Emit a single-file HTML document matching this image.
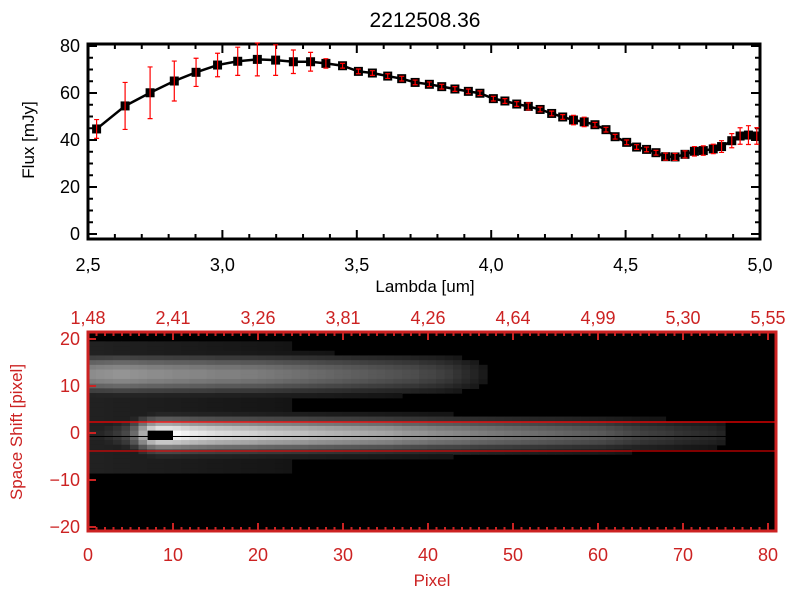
<!DOCTYPE html>
<html><head><meta charset="utf-8"><style>
body{margin:0;background:#fff}
svg{display:block;font-family:"Liberation Sans",sans-serif}
</style></head><body>
<svg id="chart" width="800" height="600" viewBox="0 0 800 600" xmlns="http://www.w3.org/2000/svg">
<rect width="800" height="600" fill="#fff"/>
<text x="425" y="27" font-size="21" text-anchor="middle">2212508.36</text>
<g id="topplot"></g>
<g id="botplot"></g>
</svg>
<script>
const lambdaVals=[2.532,2.638,2.731,2.821,2.902,2.982,3.057,3.130,3.198,3.264,3.328,3.385,3.447,3.506,3.558,3.615,3.667,3.717,3.770,3.816,3.865,3.915,3.958,4.008,4.051,4.095,4.138,4.182,4.225,4.266,4.306,4.346,4.386,4.427,4.461,4.504,4.541,4.578,4.613,4.649,4.684,4.721,4.756,4.789,4.826,4.857,4.895,4.926,4.957,4.988];
const fluxVals=[44.7,54.5,60.1,65.1,68.8,71.9,73.5,74.3,74.0,73.3,73.3,72.6,71.6,69.2,68.5,67.2,66.1,64.5,63.7,62.7,61.7,60.7,59.9,57.6,56.6,55.3,54.3,53.0,51.3,49.8,48.5,47.7,46.5,44.4,41.4,39.0,37.0,36.0,34.6,32.9,32.8,33.9,35.2,35.5,36.2,37.2,39.7,41.7,42.1,41.7];
const fluxErr=[4,10,11,8.5,6,5,6,7,6.5,5,4,2,1,1,1,1,1,1,1,1,1,1,1,1,1,1,1.5,1,1,1,2,2,1,1,1,1,1,1,1,1.5,1.5,1.5,2,2,2,2.5,3,3.5,4,3.5];
const xTickLabels=["2.5","3.0","3.5","4.0","4.5","5.0"];
const yTickLabels=["0","20","40","60","80"];
const pixTickLabels=["0","10","20","30","40","50","60","70","80"];
const waveTickLabels=["1.48","2.41","3.26","3.81","4.26","4.64","4.99","5.30","5.55"];
const shiftTickLabels=["20","10","0","-10","-20"];
const traceAmp=[0.15,0.15,0.18,0.22,0.28,0.42,0.68,0.9,1,1,0.98,0.95,0.92,0.9,0.88,0.86,0.85,0.84,0.83,0.82,0.8,0.79,0.78,0.77,0.76,0.75,0.73,0.72,0.71,0.7,0.69,0.68,0.67,0.66,0.65,0.64,0.62,0.6,0.59,0.58,0.56,0.55,0.54,0.53,0.52,0.5,0.49,0.48,0.47,0.46,0.45,0.44,0.43,0.42,0.41,0.4,0.39,0.38,0.37,0.36,0.35,0.33,0.31,0.29,0.27,0.25,0.24,0.23,0.22,0.2,0.19,0.18,0.17,0.16,0.14,0,0,0,0,0,0];
const bandAmp=[0.55,0.56,0.57,0.58,0.58,0.57,0.56,0.55,0.55,0.54,0.53,0.53,0.52,0.52,0.51,0.5,0.5,0.5,0.49,0.49,0.48,0.47,0.46,0.45,0.44,0.43,0.42,0.41,0.4,0.39,0.38,0.37,0.36,0.35,0.34,0.33,0.32,0.31,0.3,0.28,0.27,0.25,0.23,0.2,0.17,0.14,0.1,0.06,0.03,0,0,0,0,0,0,0,0,0,0,0,0,0,0,0,0,0,0,0,0,0,0,0,0,0,0,0,0,0,0,0,0];
const traceProfile=[0.15,0.35,0.65,0.88,1,0.95,0.78,0.5,0.28,0.15];
const bandProfile=[0.2,0.45,0.7,0.9,1,1,0.9,0.7,0.45,0.25];

const NS="http://www.w3.org/2000/svg";
function el(parent,tag,attrs,text){const e=document.createElementNS(NS,tag);for(const k in attrs)e.setAttribute(k,attrs[k]);if(text!==undefined)e.textContent=text;parent.appendChild(e);return e;}

const topG=document.getElementById('topplot');
const X0=88,X1=760,Y0=239,Y1=44;
const lx=v=>X0+(v-2.5)/2.5*(X1-X0);
const fy=v=>234-v*2.35;
for(let i=0;i<=25;i++){const v=2.5+i*0.1,x=lx(v),L=(i%5==0)?9:5;
 let t=el(topG,'line',{x1:x,y1:Y0,x2:x,y2:Y0-L,stroke:'#000','stroke-width':2});
 t=el(topG,'line',{x1:x,y1:Y1,x2:x,y2:Y1+L,stroke:'#000','stroke-width':2});}
xTickLabels.forEach((s,i)=>{const t=el(topG,'text',{x:lx(2.5+i*0.5),y:271,'font-size':18,'text-anchor':'middle'},s.replace('.',','));});
for(let v=0;v<=80;v+=5){const y=fy(v),L=(v%20==0)?9:5;
 let t=el(topG,'line',{x1:X0,y1:y,x2:X0+L,y2:y,stroke:'#000','stroke-width':2});
 t=el(topG,'line',{x1:X1,y1:y,x2:X1-L,y2:y,stroke:'#000','stroke-width':2});}
yTickLabels.forEach((s,i)=>{const t=el(topG,'text',{x:80,y:fy(i*20)+6,'font-size':18,'text-anchor':'end'},s);});
let ax=el(topG,'rect',{x:X0,y:Y1,width:X1-X0,height:Y0-Y1,fill:'none',stroke:'#000','stroke-width':3});

let lab=el(topG,'text',{x:425,y:292,'font-size':17,'text-anchor':'middle'},'Lambda [um]');

lab=el(topG,'text',{x:34,y:140,'font-size':17,'text-anchor':'middle',transform:'rotate(-90 34 140)'},'Flux [mJy]');

const fline=el(topG,'polyline',{points:lambdaVals.map((l,i)=>lx(l)+','+fy(fluxVals[i])).join(' '),fill:'none',stroke:'#000','stroke-width':2.5});

lambdaVals.forEach((l,i)=>{const x=lx(l),y=fy(fluxVals[i]);
 const p=el(topG,'rect',{x:x-4.5,y:y-4.5,width:9,height:9,fill:'#000'});});
lambdaVals.forEach((l,i)=>{const x=lx(l),ya=fy(fluxVals[i]+fluxErr[i]),yb=fy(fluxVals[i]-fluxErr[i]);
 const g=el(topG,'path',{d:`M${x},${ya}V${yb}M${x-2.5},${ya}H${x+2.5}M${x-2.5},${yb}H${x+2.5}`,stroke:'#f00','stroke-width':1.2,fill:'none'});
 });

const botG=document.getElementById('botplot');
const BX0=88,BX1=776,BY0=531,BY1=332,RED='#cc2222';
const px=v=>BX0+v*(768-88)/80;
const sy=v=>433-v*4.7;
const cw=(768-88)/80,rh=4.7;
const img=el(botG,'g',{});
const bg=el(img,'rect',{x:BX0,y:BY1,width:BX1-BX0,height:BY0-BY1,fill:'#000'});
for(let c=0;c<81;c++){for(let r=21;r>=-21;r--){
 let v=0;
 const ti=4-r; if(ti>=0&&ti<traceProfile.length) v=Math.max(v,traceAmp[c]*traceProfile[ti]);
 const bi=17-r; if(bi>=0&&bi<bandProfile.length) v=Math.max(v,bandAmp[c]*bandProfile[bi]);
 if(c<45&&r>-9&&r<20) v=Math.max(v,0.13*(1-c/60));
 if(v<0.08)continue;
 const g=Math.min(255,Math.round(v*255));
 const cell=el(img,'rect',{x:px(c)-0.5,y:sy(r)-rh/2,width:cw+0.6,height:rh+0.6,fill:`rgb(${g},${g},${g})`});
 }}
let blob=el(img,'path',{d:`M${px(7)},${sy(0.5)}h${cw*3}v${rh*2}h${-cw*3}z`,fill:'#000'});
let l1=el(botG,'line',{x1:BX0,x2:BX1,y1:422,y2:422,stroke:'#f00','stroke-width':1.3});
let l2=el(botG,'line',{x1:BX0,x2:BX1,y1:451,y2:451,stroke:'#f00','stroke-width':1});
let l3=el(botG,'line',{x1:BX0,x2:BX1,y1:436.5,y2:436.5,stroke:'#000','stroke-width':1});
for(let i=0;i<=81;i++){const x=px(i),L=(i%10==0)?8:4;
 let t=el(botG,'line',{x1:x,y1:BY0,x2:x,y2:BY0-L,stroke:RED,'stroke-width':2});
 t=el(botG,'line',{x1:x,y1:BY1,x2:x,y2:BY1+L,stroke:RED,'stroke-width':2});}
for(let v=-20;v<=20;v+=10){const t=el(botG,'line',{x1:BX0,y1:sy(v),x2:BX0+8,y2:sy(v),stroke:RED,'stroke-width':2});}
pixTickLabels.forEach((s,i)=>{const t=el(botG,'text',{x:px(i*10),y:561,'font-size':18,'text-anchor':'middle',fill:RED},s);});
waveTickLabels.forEach((s,i)=>{const t=el(botG,'text',{x:px(i*10),y:324,'font-size':18,'text-anchor':'middle',fill:RED},s.replace('.',','));});
shiftTickLabels.forEach((s,i)=>{const t=el(botG,'text',{x:80,y:sy(20-i*10)+6,'font-size':18,'text-anchor':'end',fill:RED},s.replace('-','\u2212'));});
let bf=el(botG,'rect',{x:BX0,y:BY1,width:BX1-BX0,height:BY0-BY1,fill:'none',stroke:RED,'stroke-width':3});
lab=el(botG,'text',{x:432,y:586,'font-size':17,'text-anchor':'middle',fill:RED},'Pixel');
lab=el(botG,'text',{x:22,y:432,'font-size':17,'text-anchor':'middle',fill:RED,transform:'rotate(-90 22 432)'},'Space Shift [pixel]');
</script>
</body></html>
